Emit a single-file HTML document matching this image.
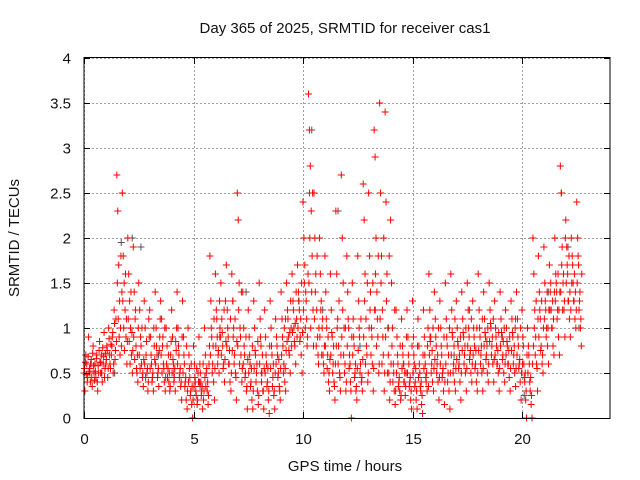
<!DOCTYPE html>
<html><head><meta charset="utf-8"><style>
body{margin:0;background:#fff}
svg{display:block;font-family:"Liberation Sans",sans-serif;font-size:15px;fill:#111}
</style></head><body>
<svg width="640" height="480">
<g id="grid"></g>
<g id="pts"></g>
<rect x="84" y="57.5" width="526" height="361" fill="none" stroke="#000" stroke-width="1"/>
<g id="ticks"></g>
<text x="345" y="33" text-anchor="middle">Day 365 of 2025, SRMTID for receiver cas1</text>
<text x="345" y="471" text-anchor="middle">GPS time / hours</text>
<text x="19" y="238" text-anchor="middle" transform="rotate(-90 19 238)">SRMTID / TECUs</text>
</svg>
<script>
const xTicks=[0,5,10,15,20];
const yTicks=[0,0.5,1,1.5,2,2.5,3,3.5,4];
const binStart=0, binWidth=0.25;
const redBins=[
[.5,.3,.7,.6,.45,.9],[.55,.4,.65,.35,.8,.5],[.6,.45,.7,.3,.5,.85],[.5,.7,.4,.6,.95,.55],
[.6,.8,.45,1.0,.7,.55],[.7,.9,.5,1.2,.65,1.1],[2.7,2.3,1.7,1.3,1.0,.8],[2.5,1.8,1.5,1.2,.9,.6],
[2.0,1.6,1.3,1.0,.7,.5],[1.9,1.4,1.1,.8,.5,.4],[1.5,1.2,.9,.6,.45,.35],[1.3,1.0,.7,.5,.3,1.1],
[1.2,.9,.6,.45,.3,.8],[1.4,1.0,.7,.5,.35,.9],[1.3,1.1,.8,.6,.4,.3],[1.0,.8,.55,.4,.3,.7],
[1.2,.9,.6,.45,.3,.75],[1.4,1.0,.7,.5,.35,.2],[1.3,.9,.6,.4,.2,.1],[1.0,.7,.45,.3,.15,.0],
[.8,.6,.4,.25,.15,.5],[.9,.6,.4,.3,.1,.2],[1.0,.7,.5,.3,.15,.6],[1.8,1.3,.9,.6,.4,.2],
[1.6,1.2,.9,.7,.5,1.0],[1.5,1.1,.8,.6,.4,1.3],[1.7,1.2,.9,.6,.4,.3],[1.6,1.3,1.0,.7,.5,.2],
[2.5,2.2,1.5,1.0,.7,.4],[1.4,1.0,.7,.5,.3,.1],[1.2,.9,.6,.4,.2,.1],[1.3,1.0,.7,.5,.3,.15],
[1.5,1.1,.8,.5,.3,.1],[1.2,.9,.6,.4,.2,.05],[1.3,1.0,.7,.45,.25,.1],[1.1,.9,.7,.5,.35,.2],
[1.4,1.1,.8,.6,.4,.3],[1.5,1.2,.9,.7,.5,1.0],[1.6,1.3,1.0,.8,.6,1.1],[1.7,1.4,1.2,.9,.7,.5],
[2.4,2.0,1.7,1.4,1.1,.9],[3.6,3.2,2.8,2.3,1.8,1.2],[2.5,2.0,1.6,1.2,.9,.6],[2.0,1.6,1.3,1.0,.7,.5],
[1.8,1.4,1.0,.7,.4,.3],[1.6,1.2,.9,.6,.4,.2],[2.3,1.6,1.1,.8,.5,.3],[2.7,2.0,1.5,1.0,.6,.3],
[1.8,1.4,1.0,.7,.4,.0],[1.5,1.1,.8,.5,.3,.2],[1.8,1.3,.9,.6,.4,.3],[2.6,2.2,1.6,1.1,.7,.4],
[2.5,1.8,1.4,1.0,.6,.3],[3.2,2.9,2.0,1.4,.9,.5],[3.5,2.5,1.8,1.2,.7,.3],[3.4,2.4,1.6,1.0,.5,.2],
[2.2,1.5,1.0,.6,.3,.15],[1.2,.9,.6,.4,.3,.2],[1.1,.8,.6,.4,.25,.5],[1.2,.9,.6,.4,.2,.1],
[1.3,.9,.6,.4,.2,.1],[1.1,.8,.5,.3,.15,.05],[1.2,.9,.6,.4,.3,1.0],[1.6,1.2,.9,.6,.4,.3],
[1.4,1.1,.8,.6,.4,.2],[1.3,1.0,.7,.5,.3,.15],[1.5,1.1,.8,.5,.3,.1],[1.6,1.2,.9,.6,.4,.3],
[1.3,1.0,.8,.6,.4,.2],[1.4,1.1,.9,.7,.5,.3],[1.5,1.2,.9,.7,.5,.4],[1.3,1.0,.8,.6,.4,.3],
[1.6,1.2,.9,.7,.5,.3],[1.4,1.1,.9,.7,.5,.4],[1.5,1.2,1.0,.8,.6,.4],[1.3,1.0,.8,.6,.5,.3],
[1.4,1.1,.9,.7,.5,.4],[1.2,1.0,.8,.6,.45,.3],[1.3,1.1,.9,.7,.5,.35],[1.4,1.1,.8,.6,.4,.2],
[1.2,.9,.6,.4,.2,.0],[1.0,.8,.6,.3,.15,.0],[2.0,1.6,1.2,.9,.6,.3],[1.8,1.4,1.1,.8,.6,.5],
[1.9,1.5,1.2,1.0,.8,.6],[1.7,1.4,1.2,1.0,.8,.7],[2.0,1.6,1.4,1.2,.9,.7],[2.8,2.5,1.9,1.5,1.2,.9],
[2.2,1.9,1.6,1.3,1.1,.9],[2.0,1.8,1.5,1.3,1.1,1.0],[2.4,2.0,1.7,1.3,1.0,.8]
];
const redBins2=[
[.55,.62,.48,.4,.68,.52],[.5,.6,.45,.72,.58,.42],[.52,.66,.4,.58,.75,.62],[.62,.5,.78,.68,.45,.72],
[.65,.75,.55,.88,.6,.82],[.8,.95,.6,1.05,.75,.85],[1.5,1.1,.9,.7,1.8,1.4],[1.3,1.0,.75,1.6,1.1,.85],
[1.1,.85,.6,1.4,.95,.75],[.9,.65,1.2,.55,.7,1.0],[.7,.55,.8,1.0,.5,.65],[.6,.45,.85,.55,.4,.9],
[.55,.7,.4,.5,1.0,.65],[.6,.8,.45,.55,.75,1.1],[.7,.5,.9,.55,1.0,.45],[.6,.45,.7,.5,.35,.85],
[.5,.65,.4,.55,.85,1.0],[.6,.8,.45,.55,.4,.9],[.5,.7,.35,.45,.8,.3],[.4,.55,.25,.6,.35,.2],
[.35,.45,.3,.55,.2,.4],[.4,.5,.25,.35,.6,.3],[.45,.35,.55,.4,.25,.8],[.7,1.0,.5,.8,1.1,.55],
[.8,1.1,.6,.75,1.3,.9],[.7,.95,.55,1.2,.65,.85],[.8,1.0,.6,.75,1.1,.5],[.75,.9,.6,1.1,.45,.85],
[.8,1.2,.6,.9,1.4,.55],[.6,.8,.45,.9,.35,.65],[.5,.7,.35,.55,.8,.3],[.55,.75,.4,.6,.85,.25],
[.6,.9,.4,.7,.3,.55],[.5,.7,.35,.55,.3,.8],[.55,.8,.35,.6,.3,.5],[.6,.8,.45,.65,.3,.55],
[.7,.9,.5,1.0,.55,.75],[.85,1.1,.75,.95,1.3,.8],[.95,1.2,.85,1.05,1.4,.9],[1.0,1.3,.85,1.1,1.5,.95],
[1.2,1.5,1.0,1.3,.8,1.6],[1.5,2.0,1.0,1.4,2.5,.8],[1.1,1.4,.8,1.8,.7,1.0],[.9,1.2,.7,1.1,.6,.8],
[.8,1.1,.55,.9,.5,.65],[.7,.95,.5,.8,.35,.6],[.8,1.0,.6,1.3,.45,.7],[.9,1.2,.7,.5,1.0,.4],
[.8,1.1,.55,.6,.3,.9],[.7,.9,.45,.6,.35,.55],[.75,1.0,.5,1.1,.45,.65],[.9,1.3,.6,.8,1.5,.5],
[1.0,1.2,.7,.9,1.5,.55],[1.2,1.6,.8,1.1,1.8,.6],[1.1,1.5,.6,.9,2.0,.5],[.9,1.3,.5,.7,1.8,.4],
[.6,.8,.4,.5,1.2,.3],[.5,.7,.35,.45,.8,.25],[.55,.7,.4,.5,.35,.9],[.5,.7,.35,.45,.3,.8],
[.5,.7,.35,.55,.3,.8],[.45,.6,.35,.4,.25,.7],[.55,.7,.45,.5,.8,.35],[.7,.85,.5,.75,1.0,.55],
[.65,.9,.5,.7,1.0,.45],[.6,.8,.45,.55,.9,.4],[.6,.9,.4,.7,1.0,.5],[.7,.95,.5,.8,1.1,.55],
[.65,.85,.55,.7,.9,.5],[.75,.95,.6,.8,1.0,.55],[.8,1.0,.65,.75,1.1,.6],[.7,.9,.55,.75,1.0,.5],
[.75,1.0,.6,.8,1.1,.55],[.8,.95,.65,.85,1.0,.6],[.85,1.05,.7,.9,1.1,.65],[.7,.9,.6,.75,.95,.55],
[.8,.95,.65,.85,1.0,.6],[.7,.85,.6,.75,.9,.55],[.75,.95,.6,.8,1.0,.55],[.7,.9,.55,.65,1.0,.5],
[.6,.8,.45,.5,.3,.7],[.5,.7,.4,.45,.25,.6],[.8,1.0,.7,1.3,.55,1.1],[.9,1.2,.75,1.3,.7,1.0],
[1.1,1.3,.9,1.4,1.0,1.2],[1.2,1.5,1.0,1.3,1.1,1.4],[1.3,1.5,1.1,1.6,1.2,1.4],[1.4,1.7,1.2,1.6,1.3,2.0],
[1.5,1.7,1.3,1.8,1.4,1.2],[1.5,1.7,1.3,1.6,1.4,1.2],[1.5,1.8,1.2,1.4,1.1,1.6]
];
const greyT=[0.3,0.8,1.4,1.7,2.2,2.6,3.4,4.1,5.3,6.2,6.8,7.4,8.1,9.2,9.8,10.3,10.4,10.9,11.6,12.6,13.3,13.9,14.6,15.8,16.9,17.6,18.4,19.1,19.7,20.1,21.2,21.8,22.1,22.6];
const greyV=[0.6,0.5,0.5,1.95,2.0,1.9,0.7,0.5,0.35,0.9,1.3,1.4,0.5,1.1,1.3,2.5,3.2,1.2,2.3,0.8,1.2,1.0,0.6,0.9,0.7,1.2,0.8,0.9,1.1,0.25,1.4,2.5,1.9,1.0];
const X=t=>84+t*21.9, Y=v=>418-v*90;
const NS="http://www.w3.org/2000/svg";
const grid=document.getElementById('grid'),ticks=document.getElementById('ticks'),pts=document.getElementById('pts');
function ln(p,x1,y1,x2,y2,st,dash){const l=document.createElementNS(NS,'line');l.setAttribute('x1',x1);l.setAttribute('y1',y1);l.setAttribute('x2',x2);l.setAttribute('y2',y2);l.setAttribute('stroke',st);if(dash)l.setAttribute('stroke-dasharray',dash);p.appendChild(l);return l;}
function tx(p,x,y,s,a){const t=document.createElementNS(NS,'text');t.setAttribute('x',x);t.setAttribute('y',y);t.setAttribute('text-anchor',a);t.textContent=s;p.appendChild(t);return t;}
xTicks.forEach(v=>{const x=Math.round(X(v))+0.5;
const g=ln(grid,x,58,x,418,'#a0a0a0','2,2');


ln(ticks,x,418,x,412,'#000');ln(ticks,x,58,x,64,'#000');
const t=tx(ticks,x,444,String(v),'middle');

});
yTicks.forEach(v=>{const y=Math.round(Y(v))+0.5;
const g=ln(grid,84,y,610,y,'#a0a0a0','2,2');


ln(ticks,84,y,90,y,'#000');ln(ticks,610,y,604,y,'#000');
const t=tx(ticks,71,y+5,String(v),'end');

});
function plus(x,y,c){const p=document.createElementNS(NS,'path');p.setAttribute('d',`M${x-3.5} ${y}h7M${x} ${y-3.5}v7`);p.setAttribute('stroke',c);p.setAttribute('fill','none');return p;}
greyT.forEach((t,i)=>{const p=plus(X(t),Y(greyV[i]),'#555');


pts.appendChild(p);});
function drawBins(bins,offset){bins.forEach((vals,i)=>{vals.forEach((v,k)=>{const t=binStart+i*binWidth+(k+offset)*binWidth/vals.length;
const p=plus(X(t),Y(v),'#ff0000');


pts.appendChild(p);});});}
drawBins(redBins,0);
drawBins(redBins2,0.5);
</script>
</body></html>
